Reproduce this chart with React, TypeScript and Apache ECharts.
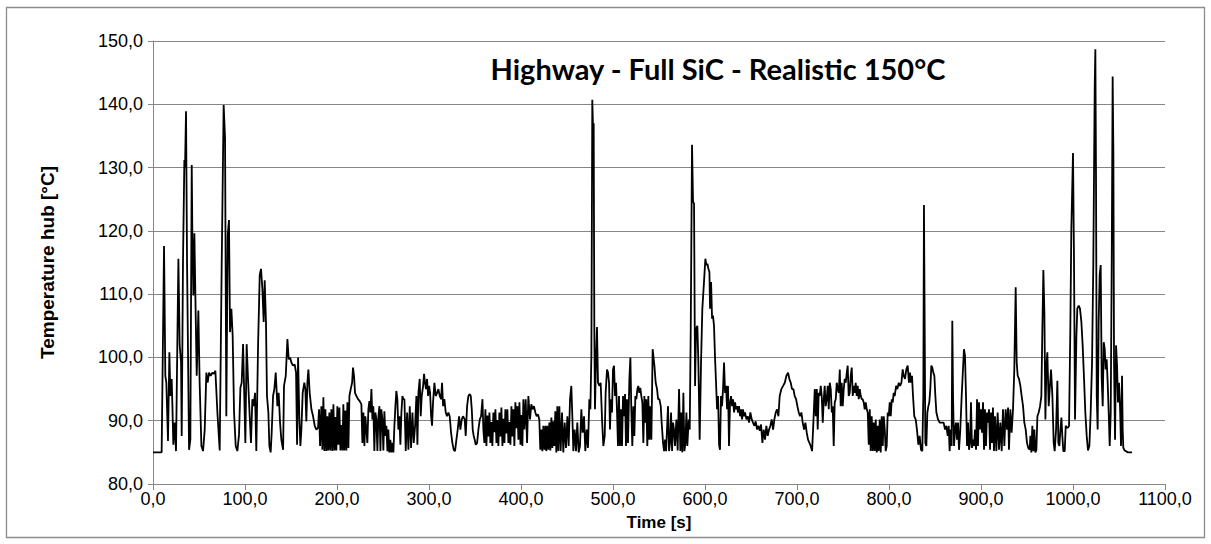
import React, { useEffect, useRef } from "react";
import * as echarts from "echarts";

// Hub temperature trace over the highway drive cycle, [time s, temperature °C]
const trace0to135: [number, number][] = [
  [0, 85], [9.4, 85], [12, 117.6], [13.4, 97.1], [14.5, 96], [16.3, 86.8], [17.8, 100.8], [18.9, 93.9],
  [20.3, 96.6], [21, 92.9], [22.1, 86.2], [23.6, 89.7], [25, 85.2], [27.6, 115.6], [29, 101.9], [30.5, 99.2],
  [31.2, 87.6], [32.6, 115.1], [34.1, 131.2], [34.8, 129.9], [35.9, 138.9], [37, 115.1], [39.2, 85.4],
  [40.6, 87], [42.1, 130.4], [42.8, 119.3], [43.9, 109.8], [45, 119.6], [46, 110.3], [47.5, 97.1],
  [49.3, 107.4], [50.7, 96], [52.6, 86], [54.4, 85.2], [56.2, 88.6], [58, 97.6], [59.4, 96], [60.9, 97.6],
  [62.7, 97.1], [64.5, 97.6], [66, 97.4], [67.8, 97.9], [70, 91.3], [72.5, 85.3], [74.7, 115.1],
  [76.8, 139.9], [78.3, 134.7], [79.7, 90.7], [81.2, 119.3], [82.6, 121.7], [83.7, 104], [85.2, 107.7],
  [86.6, 103.4], [88.1, 91.3], [89.9, 86], [91.7, 85.2], [93.5, 87.8], [95, 95.2], [96.4, 96],
  [97.9, 102.1], [99.3, 93.4], [100.4, 86.5], [101.8, 102.1], [103.3, 96.6], [105.1, 90.7], [106.5, 86.5],
  [108, 93.4], [109.4, 92.3], [110.9, 94.4], [112.3, 85.2], [114.2, 101.9], [116, 113], [117.4, 114],
  [118.9, 110.8], [120.3, 105.6], [121.4, 112.2], [122.8, 105.6], [123.9, 93.9], [125.4, 91.3],
  [126.5, 86], [127.9, 85], [129, 88.1], [130.5, 93.9], [131.9, 95], [133.4, 97.6],
];

const trace135to273: [number, number][] = [
  [135.2, 92.3], [136.6, 94.4], [138.1, 89.7], [139.5, 87], [141.4, 85.4], [142.4, 95.5], [144.3, 97.1],
  [146.1, 102.9], [147.5, 99.7], [149, 100], [150.4, 99.2], [152.2, 98.7], [154, 98.9], [155.5, 97.6],
  [156.6, 86.2], [157.7, 100], [159.1, 90.2], [160.2, 86], [161.3, 88.6], [162.7, 94.4], [164.5, 96],
  [165.6, 95], [166.7, 89.9], [167.8, 96], [168.9, 98.1], [170.3, 94.4], [172.2, 91.8], [174, 90.7],
  [175.8, 89.2], [177.6, 88.6], [179.4, 88.9], [180.5, 91.8], [181.6, 86], [183, 92.3], [184.1, 85.4],
  [185.2, 93.7], [186.3, 85.2], [187.4, 91.8], [188.5, 85.2], [189.5, 90.7], [190.6, 85.3], [191.7, 91.3],
  [192.8, 85.3], [193.9, 91.8], [195, 85.2], [196.1, 92.6], [197.2, 85.3], [198.2, 90.6], [199.3, 85.3],
  [200.4, 92.3], [201.5, 86.2], [202.6, 92.1], [203.7, 85.3], [204.8, 89.3], [205.9, 85.3], [206.9, 92.6],
  [208, 85.3], [209.1, 91.6], [210.2, 85.3], [211.3, 92.9], [212.4, 85.7], [213.5, 93.9], [214.9, 95],
  [216.4, 96], [217.4, 98.4], [218.5, 97.1], [219.6, 94.4], [221.1, 93.9], [222.9, 93.4], [224.7, 93.1],
  [226.5, 92.6], [227.6, 86.5], [228.7, 91.3], [229.8, 86], [230.8, 90.7], [231.9, 88.6], [233, 86.5],
  [234.1, 91.8], [235.2, 93.1], [236.3, 91.3], [237.4, 95], [238.5, 90.2], [239.5, 92.3], [240.6, 85.2],
  [241.7, 91.3], [242.8, 90.2], [243.9, 85.2], [245, 90.7], [246.1, 92.3], [247.2, 85.2], [248.2, 91.8],
  [249.3, 90.2], [250.4, 85.3], [251.5, 91.5], [252.6, 87.6], [253.7, 89.2], [254.8, 85.2], [255.8, 88.6],
  [256.9, 85], [258, 87], [259.1, 85], [260.2, 86.5], [261.3, 85], [262.4, 89.2], [263.5, 92.3],
  [264.5, 94.7], [265.6, 93.4], [266.7, 88.6], [267.8, 90.7], [268.9, 86.2], [270, 91.3], [271.1, 93.9],
  [272.2, 93.4],
];

const trace273to409: [number, number][] = [
  [273.3, 93.4], [274.7, 85.2], [276.2, 91.3], [277.6, 85.4], [279.1, 92.3], [280.5, 85.7], [282, 91.3],
  [283.4, 86.5], [284.9, 89.2], [286.3, 93.9], [287.4, 86.2], [288.5, 94.4], [289.9, 96.6], [291, 90.7],
  [292.1, 93.9], [293.6, 95.5], [294.6, 97.4], [295.7, 96], [296.8, 95], [297.9, 96.6], [299, 93.9],
  [300.1, 95.5], [301.2, 94.4], [302.3, 90.7], [303.3, 89.2], [304.4, 92.9], [305.9, 96], [307.3, 93.9],
  [308.8, 94.4], [310.2, 95], [311.7, 93.9], [313.1, 93.4], [314.2, 96], [315.3, 92.3], [316.7, 93.4],
  [318.2, 91.3], [319.6, 90.7], [321.1, 91.3], [322.5, 90.7], [324, 88.1], [325.4, 86.5], [326.9, 85.4],
  [328.3, 85.2], [329.8, 87], [331.2, 88.6], [332.7, 90.7], [334.1, 88.6], [335.6, 90.2], [337, 90.7],
  [338.8, 90.2], [339.9, 87.6], [341.4, 92.3], [342.8, 93.9], [344.3, 94.2], [345.4, 93.9], [346.5, 91.8],
  [347.5, 88.6], [348.6, 87.6], [349.7, 87], [350.8, 86.2], [352.3, 86.5], [353.7, 88.6], [355.2, 90.2],
  [356.6, 90.7], [358.1, 93.4], [359.1, 88.6], [360.2, 86.5], [361.3, 91.8], [362.4, 86], [363.5, 90.8],
  [364.6, 87.5], [365.7, 91.3], [366.7, 86.5], [367.8, 89.8], [368.9, 86], [370, 91.3], [371.1, 88.2],
  [372.2, 91.8], [373.3, 86.5], [374.4, 90.1], [375.4, 86], [376.5, 91.3], [377.6, 87.5], [378.7, 92.1],
  [379.8, 86], [380.9, 90.3], [382, 86.5], [383, 91.8], [384.1, 88], [385.2, 91.8], [386.3, 86.5],
  [387.4, 89.8], [388.5, 86.2], [389.6, 92.3], [390.7, 87.5], [391.7, 91.8], [392.8, 86], [393.9, 92.9],
  [395, 88.8], [396.1, 92.3], [397.2, 87], [398.3, 92.9], [399.4, 86.2], [400.4, 90.9], [401.5, 86],
  [402.6, 93.4], [403.7, 88.6], [405.1, 93.4], [406.6, 86.5], [408, 93.9],
];

const trace409to544: [number, number][] = [
  [409.8, 90.2], [411.2, 92.6], [412.7, 91.8], [414.1, 92.3], [415.6, 91.3], [417, 90.7], [418.5, 91],
  [419.9, 90.2], [421, 85.4], [422.1, 88.6], [423.2, 85.2], [424.3, 89.2], [425.4, 85.4], [426.5, 89.2],
  [427.5, 85.2], [428.6, 89.2], [429.7, 85.4], [430.8, 89.7], [431.9, 85.3], [433, 90.5], [434.1, 85.7],
  [435.2, 89.9], [436.2, 86], [437.3, 91.5], [438.4, 85], [439.5, 92.3], [440.6, 85.2], [441.7, 92.3],
  [443.1, 85.2], [444.6, 91.3], [446, 85], [447.5, 89.7], [448.9, 85.7], [450.4, 90.7], [451.8, 86],
  [453.3, 93.4], [454.7, 95.5], [455.8, 90.7], [456.9, 85.2], [458.3, 88.6], [459.8, 85.2], [461.2, 89.7],
  [462.7, 85], [464.1, 86], [465.6, 91.8], [467, 88.1], [468.5, 90.7], [469.9, 85.2], [471.4, 88.6],
  [472.8, 85.7], [474.3, 93.4], [475.4, 91.8], [476.5, 100.3], [477.5, 140.7], [478.3, 136.2], [479, 137],
  [479.7, 104.5], [480.4, 91.8], [481.5, 99.2], [482.6, 104.8], [483.7, 96], [485.2, 95.5], [486.6, 96],
  [488.1, 90.2], [489.5, 86], [491, 87.6], [492, 94.4], [493.5, 98.1], [494.6, 97.6], [495.7, 96],
  [496.7, 88.6], [497.8, 93.4], [498.9, 91.3], [500, 98.1], [501.1, 98.7], [502.2, 93.9], [503.3, 96],
  [504.4, 91.3], [505.4, 86], [506.5, 93.9], [507.6, 86], [508.7, 91.8], [509.8, 86], [510.9, 93.9],
  [512, 90.7], [513.1, 94.2], [514.1, 86], [515.2, 93.4], [516.3, 86.5], [517.8, 96.6], [518.9, 100],
  [519.9, 91.8], [521, 86], [522.1, 92.3], [523.2, 87.6], [524.3, 93.9], [525.4, 93.4], [526.5, 95],
  [527.5, 95.5], [528.6, 94.4], [529.7, 95.2], [530.8, 93.9], [531.9, 92.9], [533, 86.5], [534.1, 93.9],
  [535.2, 89.7], [536.2, 93.4], [537.3, 86], [538.4, 93.9], [539.5, 87], [540.6, 92.3], [541.7, 87],
  [543.1, 101.3],
];

const trace544to680: [number, number][] = [
  [545, 98.7], [546.4, 96], [547.9, 95], [549, 93.4], [550.4, 93.4], [551.9, 92.3], [552.9, 89.7],
  [554.4, 86.5], [555.5, 85.2], [556.6, 87], [557.7, 85.2], [558.7, 88.6], [559.8, 92.3], [560.9, 85.2],
  [562, 86.5], [563.1, 91.3], [564.2, 85.2], [565.3, 89.7], [566.3, 88.6], [567.4, 86], [568.9, 90.2],
  [570.3, 85.3], [571.8, 95], [573.2, 85.2], [574.3, 91.3], [575.4, 85], [576.5, 94.4], [577.6, 85.2],
  [578.7, 86.5], [579.8, 91.3], [580.8, 86], [582.3, 90.2], [583.4, 88.6], [584.5, 104.5], [585.9, 133.6],
  [587, 124.6], [588.1, 124.3], [589.2, 95.5], [590.3, 104.5], [591.7, 105], [592.8, 99.2], [594.2, 87],
  [595.7, 99.2], [597.1, 107.7], [598.9, 111.9], [600.4, 115.6], [601.5, 114.6], [602.6, 114.8],
  [603.7, 114], [604.8, 113.5], [605.5, 107.7], [606.6, 111.9], [607.7, 106.1], [608.7, 106.6],
  [609.8, 105], [610.9, 100], [612, 96], [613.1, 91.8], [614.2, 93.9], [615.3, 86.2], [616.3, 85.4],
  [617.4, 93.9], [618.5, 92.3], [619.6, 95], [620.7, 99.2], [621.8, 94.4], [622.9, 95.5], [624, 91.8],
  [625, 95.5], [626.1, 86], [627.2, 92.9], [628.3, 93.9], [629.4, 92.3], [630.5, 93.4], [631.6, 91.3],
  [632.7, 92.9], [633.7, 91.8], [634.8, 92.3], [635.9, 91.3], [637, 92.3], [638.1, 90.7], [639.2, 91.8],
  [640.3, 90.2], [641.3, 91.8], [642.4, 90.7], [643.5, 91.3], [645, 90.2], [646.4, 90.7], [647.9, 89.7],
  [649.3, 91.3], [650.8, 90.2], [652.2, 89.7], [653.7, 89.2], [655.1, 89.9], [656.6, 88.6], [658, 89.2],
  [659.5, 88.4], [660.9, 89.4], [662.4, 86.5], [663.8, 88.6], [665.3, 87], [666.7, 89.2], [668.2, 87.6],
  [669.6, 88.6], [671.1, 89.2], [672.5, 90.2], [674, 88.6], [675.4, 90.2], [676.9, 91.3], [678.3, 91.8],
  [679.8, 90.7],
];

const trace680to817: [number, number][] = [
  [681.2, 93.9], [683, 95], [684.9, 95.5], [686.7, 96], [688.5, 97.1], [690.3, 97.6], [691.7, 96.6],
  [693.2, 96], [694.6, 95], [696.1, 95], [697.5, 93.9], [699, 93.4], [700.4, 92.3], [701.9, 91.3],
  [703.3, 90.7], [704.8, 91.3], [706.2, 89.7], [707.7, 88.6], [709.1, 89.7], [710.6, 88.1], [712, 87],
  [713.5, 86.5], [714.9, 86], [716.4, 85.2], [717.8, 89.7], [719.3, 95], [720.4, 90.7], [721.5, 95],
  [722.5, 88.6], [723.6, 94.4], [724.7, 93.9], [725.8, 95.5], [726.9, 93.9], [728, 89.7], [729.1, 93.4],
  [730.1, 95.5], [731.2, 92.3], [732.3, 93.4], [733.4, 95.5], [734.5, 91.8], [735.6, 96], [736.7, 95],
  [737.8, 91.3], [738.8, 92.3], [739.9, 86], [741, 92.9], [742.1, 93.4], [743.2, 96], [744.3, 95],
  [745.4, 94.4], [746.5, 98.1], [747.5, 92.3], [748.6, 96], [749.7, 92.3], [750.8, 95], [751.9, 96.6],
  [753, 96], [754.1, 97.6], [755.1, 98.7], [756.2, 93.9], [757.3, 94.4], [758.4, 97.1], [759.5, 98.4],
  [760.6, 93.9], [761.7, 95.5], [762.8, 94.4], [763.8, 96], [764.9, 93.9], [766, 95.5], [767.1, 93.4],
  [768.2, 95], [769.3, 93.9], [770.4, 93.4], [771.4, 93.4], [772.5, 92.9], [773.6, 91.8], [774.7, 92.9],
  [775.8, 91.8], [776.9, 91.3], [778, 86.2], [779.1, 91.8], [780.1, 85.2], [781.2, 90.7], [782.3, 85.2],
  [783.4, 89.7], [784.5, 85.2], [785.6, 90.2], [786.7, 85], [787.8, 89.2], [788.8, 85.2], [789.9, 90.2],
  [791, 85], [792.1, 90.7], [793.2, 86], [794.3, 90.7], [795.4, 88.6], [796.4, 85.2], [797.5, 86],
  [798.6, 91.3], [799.7, 90.7], [800.8, 92.9], [801.9, 90.7], [803, 93.4], [804.1, 92.9], [805.1, 94.4],
  [806.2, 93.9], [807.7, 95.5], [809.1, 95], [810.6, 96], [812, 95.5], [813.5, 96], [814.9, 98.1],
  [816, 97.1],
];

const trace817to953: [number, number][] = [
  [817.4, 96.6], [818.8, 98.1], [820.3, 98.7], [821.7, 96], [822.8, 97.6], [823.9, 96], [825, 97.1],
  [826.1, 93.9], [827.5, 90.7], [829, 90.2], [830.4, 88.6], [831.9, 86.2], [833.3, 87.6], [834.8, 85.4],
  [836.2, 85.2], [837.3, 93.9], [838, 124.1], [838.8, 104.5], [839.5, 86.5], [840.6, 86], [841.7, 91.3],
  [842.8, 92.3], [843.8, 92.9], [844.9, 95], [846, 98.7], [847.1, 98.4], [848.2, 97.6], [849.3, 97.1],
  [850.4, 93.9], [851.5, 91.3], [853.3, 90.2], [855.1, 89.7], [857.3, 89.7], [859.4, 89.7], [860.9, 88.6],
  [862.3, 89.2], [863.8, 87.6], [864.9, 89.2], [865.9, 85.2], [867, 88.6], [868.1, 86], [868.8, 105.8],
  [869.6, 93.9], [870.7, 86], [871.7, 88.6], [872.8, 89.7], [873.9, 87], [875, 89.7], [876.1, 85.4],
  [877.5, 88.6], [879, 93.9], [880.4, 98.1], [881.5, 101.3], [882.6, 100.3], [883.7, 93.9], [884.8, 86],
  [885.9, 89.7], [887, 85.4], [888.1, 86.5], [889.1, 92.9], [890.2, 85.7], [891.3, 87], [892.4, 86],
  [893.5, 88.6], [894.6, 85.4], [895.7, 93.4], [896.7, 86], [897.8, 92.9], [898.9, 88.6], [900, 91.8],
  [901.1, 88.1], [902.2, 92.9], [903.3, 85.4], [904.3, 91.8], [905.4, 86], [906.5, 91.3], [907.6, 89.7],
  [908.7, 91.8], [909.8, 85.4], [910.9, 91.3], [912, 86.5], [913, 92.1], [914.1, 85.2], [915.2, 90.7],
  [916.7, 85.2], [918.1, 91.3], [919.6, 85.4], [921, 89.7], [922.5, 85.2], [923.9, 91.8], [925.4, 86],
  [926.8, 91.8], [928.3, 88.6], [929.4, 92.1], [930.4, 85.4], [931.9, 91.8], [933.3, 88.1], [934.8, 91.8],
  [936.2, 98.1], [937.7, 111.1], [938.8, 99.2], [939.9, 97.1], [941.3, 96.6], [942.8, 95.5], [944.2, 93.9],
  [945.7, 92.3], [947.1, 89.7], [948.6, 88.6], [950, 86.5], [951.4, 85.7], [952.9, 85.4],
];

const trace953to1065: [number, number][] = [
  [953.7, 87.6], [954.7, 85], [955.8, 89.2], [956.9, 85.2], [958, 88.6], [959.1, 85], [960.2, 85.4],
  [961.3, 90.7], [962.7, 91.3], [964.2, 92.3], [965.6, 93.9], [966.7, 104.5], [967.8, 113.8], [968.9, 107.1],
  [970, 90.2], [971.1, 98.7], [972.1, 100.8], [973.6, 92.3], [974.7, 95], [976.1, 98.1], [977.6, 93.9],
  [979, 86.5], [980.1, 85.2], [981.6, 88.6], [983, 96.3], [984.1, 86.5], [985.2, 86], [986.3, 88.6],
  [987.4, 90.5], [988.4, 87.6], [989.5, 85.2], [991, 85.2], [992.1, 89.2], [993.2, 88.9], [994.6, 88.9],
  [995.7, 89.2], [997.1, 104.5], [998.2, 120.4], [1000, 132.3], [1001.1, 115.1], [1002.2, 90.2],
  [1003.7, 103.4], [1004.7, 107.7], [1006.2, 108.2], [1007.6, 107.7], [1009.1, 105.6], [1010.5, 101.9],
  [1012, 96.6], [1013.4, 91.3], [1014.9, 87.6], [1016.3, 85.3], [1017.8, 86], [1019.2, 91.3],
  [1020.7, 99.2], [1022.1, 115.1], [1023.6, 142.6], [1024.3, 148.7], [1025, 128.8], [1025.8, 93.9],
  [1026.8, 88.6], [1027.9, 105.6], [1029, 113], [1030.1, 114.6], [1031.2, 96.6], [1032.3, 92.3],
  [1033.4, 102.4], [1034.5, 101.3], [1035.5, 98.1], [1036.6, 99.7], [1037.7, 96], [1038.8, 91.3],
  [1039.9, 86], [1041, 91.3], [1042.1, 115.1], [1043.1, 144.4], [1043.9, 132], [1044.6, 99.2],
  [1045.7, 87], [1046.8, 101.9], [1047.9, 98.7], [1048.9, 92.9], [1050, 96], [1051.1, 92.3], [1052.2, 86],
  [1053.3, 97.1], [1054, 88.6], [1054.7, 85.7], [1056.2, 85.3], [1059.8, 85], [1064.2, 85],
];

const hubTemperature = [
  ...trace0to135, ...trace135to273, ...trace273to409, ...trace409to544,
  ...trace544to680, ...trace680to817, ...trace817to953, ...trace953to1065,
];

const chartTitle = "Highway - Full SiC - Realistic 150°C";
const xAxisName = "Time [s]";
const yAxisName = "Temperature hub [°C]";

const decimalComma = (v: number) => v.toFixed(1).replace(".", ",");

export default function App() {
  const ref = useRef<HTMLDivElement>(null);

  useEffect(() => {
    if (!ref.current) return;
    const chart = echarts.init(ref.current, undefined, { renderer: "svg" });
    const axisGrey = "#868686";
    const labelFont = "'Liberation Sans', Arial, sans-serif";

    chart.setOption({
      animation: false,
      backgroundColor: "#ffffff",
      grid: { left: 153, top: 41, right: 46, bottom: 60, containLabel: false },
      graphic: [
        {
          type: "rect",
          shape: { x: 6.5, y: 7.5, width: 1198, height: 530 },
          style: { fill: "none", stroke: "#8c8c8c", lineWidth: 1.3 },
          silent: true,
        },
        {
          type: "text",
          x: 718,
          y: 68,
          style: {
            text: chartTitle,
            fill: "#000000",
            font: "bold 29px Lato, 'Open Sans', sans-serif",
            align: "center",
            verticalAlign: "middle",
          },
          z: 10,
        },
      ],
      xAxis: {
        type: "value",
        min: 0,
        max: 1100,
        interval: 100,
        name: xAxisName,
        nameLocation: "middle",
        nameGap: 30,
        nameTextStyle: { fontFamily: labelFont, fontWeight: "bold", fontSize: 17, color: "#000" },
        axisLine: { show: true, lineStyle: { color: axisGrey, width: 1 } },
        axisTick: { show: true, length: 6, lineStyle: { color: axisGrey } },
        axisLabel: {
          formatter: decimalComma,
          fontFamily: labelFont,
          fontSize: 18,
          color: "#000",
          margin: 6,
        },
        splitLine: { show: false },
      },
      yAxis: {
        type: "value",
        min: 80,
        max: 150,
        interval: 10,
        name: yAxisName,
        nameLocation: "middle",
        nameGap: 96,
        nameRotate: 90,
        nameTextStyle: { fontFamily: labelFont, fontWeight: "bold", fontSize: 19, color: "#000" },
        axisLine: { show: true, lineStyle: { color: axisGrey, width: 1 } },
        axisTick: { show: true, length: 5, lineStyle: { color: axisGrey } },
        axisLabel: {
          formatter: decimalComma,
          fontFamily: labelFont,
          fontSize: 18,
          color: "#000",
          margin: 10,
        },
        splitLine: { show: true, lineStyle: { color: axisGrey, width: 1 } },
      },
      series: [
        {
          type: "line",
          data: hubTemperature,
          showSymbol: false,
          symbol: "none",
          lineStyle: { color: "#000000", width: 1.8 },
          z: 5,
        },
      ],
    });

    return () => chart.dispose();
  }, []);

  return (
    <div
      ref={ref}
      style={{ position: "absolute", left: 0, top: 0, width: 1211, height: 544 }}
    />
  );
}
